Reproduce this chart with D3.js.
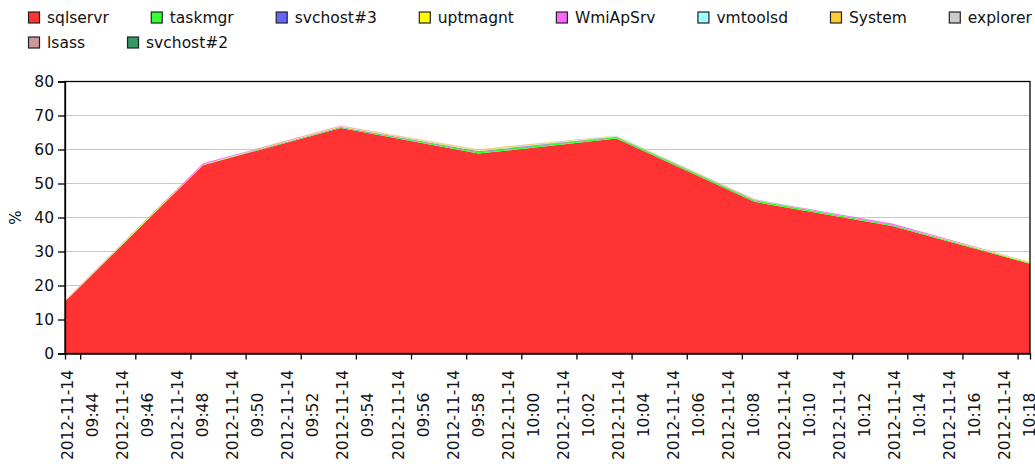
<!DOCTYPE html>
<html>
<head>
<meta charset="utf-8">
<script src="https://cdn.jsdelivr.net/npm/d3@7"></script>
<style>
  html, body { margin: 0; padding: 0; background: #fff; }
  svg { display: block; font-family: "DejaVu Sans", Verdana, sans-serif; }
</style>
</head>
<body>
<svg id="chart" width="1035" height="466"></svg>
<script>
// Sample timestamps (one sample every five minutes)
const times = [
  "2012-11-14 09:43:27", "2012-11-14 09:48:27", "2012-11-14 09:53:27", "2012-11-14 09:58:27",
  "2012-11-14 10:03:27", "2012-11-14 10:08:27", "2012-11-14 10:13:27", "2012-11-14 10:18:27"
];

// Process names, in stacking order (bottom to top)
const processes = ["sqlservr", "taskmgr", "svchost#3", "uptmagnt", "WmiApSrv",
                   "vmtoolsd", "System", "explorer", "lsass", "svchost#2"];

// CPU usage per process, %
const sqlservr  = [15.3, 55.4, 66.3, 58.8, 63.2, 44.6, 37.5, 26.4];
const taskmgr   = [0.05, 0.05, 0.15, 0.5, 0.5, 0.5, 0.3, 0.2];
const svchost3  = [0.02, 0.02, 0.15, 0.2, 0.05, 0.05, 0.05, 0.02];
const uptmagnt  = [0.3, 0.1, 0.25, 0.15, 0.1, 0.05, 0.05, 0.25];
const wmiApSrv  = [0.05, 0.35, 0.1, 0.05, 0.05, 0.15, 0.3, 0.05];
const vmtoolsd  = [0.02, 0.02, 0.02, 0.05, 0.15, 0.05, 0.02, 0.02];
const systemCpu = [0.02, 0.02, 0.05, 0.25, 0.05, 0.02, 0.02, 0.02];
const explorer  = [0, 0, 0.02, 0.05, 0.02, 0, 0, 0];
const lsass     = [0, 0, 0.02, 0.02, 0, 0, 0, 0];
const svchost2  = [0, 0, 0, 0.02, 0, 0, 0, 0];

const seriesValues = [sqlservr, taskmgr, svchost3, uptmagnt, wmiApSrv,
                      vmtoolsd, systemCpu, explorer, lsass, svchost2];

const colors = ["#ff3333", "#33ff33", "#6666ff", "#ffff00", "#ff66ff",
                "#99ffff", "#ffcc33", "#cccccc", "#cc9999", "#339966"];

const yTicks = [0, 10, 20, 30, 40, 50, 60, 70, 80];
const yLabel = "%";

const parseTime = d3.timeParse("%Y-%m-%d %H:%M:%S");
const rows = times.map((t, i) => {
  const r = { time: parseTime(t) };
  processes.forEach((p, k) => { r[p] = seriesValues[k][i]; });
  return r;
});

const svg = d3.select("#chart");
const plot = { left: 65, right: 1030, top: 81.5, bottom: 353.5 };

const x = d3.scaleTime()
  .domain(d3.extent(rows, d => d.time))
  .range([plot.left, plot.right]);
const y = d3.scaleLinear().domain([0, 80]).range([plot.bottom, plot.top]);

// Horizontal grid lines
svg.append("g")
  .selectAll("line")
  .data(yTicks.filter(v => v > 0 && v < 80))
  .join("line")
  .attr("x1", plot.left).attr("x2", plot.right)
  .attr("y1", d => y(d)).attr("y2", d => y(d))
  .attr("stroke", "#c8c8c8").attr("stroke-width", 1);

// Stacked areas
const stack = d3.stack().keys(processes);
const layers = stack(rows);
const area = d3.area()
  .x(d => x(d.data.time))
  .y0(d => y(d[0]))
  .y1(d => y(d[1]));

svg.append("g")
  .selectAll("path")
  .data(layers)
  .join("path")
  .attr("d", area)
  .attr("fill", (d, i) => colors[i]);

// Plot frame
svg.append("rect")
  .attr("x", plot.left).attr("y", plot.top)
  .attr("width", plot.right - plot.left).attr("height", plot.bottom - plot.top)
  .attr("fill", "none").attr("stroke", "#000").attr("stroke-width", 1.3);

// Y axis
const yAxis = svg.append("g")
  .attr("transform", `translate(${plot.left},0)`)
  .call(d3.axisLeft(y).tickValues(yTicks).tickSize(7).tickPadding(4).tickFormat(d3.format("d")));
yAxis.select(".domain").attr("stroke", "#000").attr("stroke-width", 1.3);
yAxis.selectAll(".tick line").attr("stroke", "#000").attr("stroke-width", 1.3);
yAxis.selectAll("text")
  .attr("font-family", "DejaVu Sans, Verdana, sans-serif")
  .attr("font-size", 15.5).attr("fill", "#111");

svg.append("text")
  .attr("transform", `translate(21,${(plot.top + plot.bottom) / 2}) rotate(-90)`)
  .attr("text-anchor", "middle")
  .attr("font-size", 15).attr("fill", "#111")
  .text(yLabel);

// X axis: ticks every two minutes
const xTickValues = d3.timeMinute.every(2).range(
  d3.timeMinute.ceil(x.domain()[0]), x.domain()[1]);
const xAxis = svg.append("g")
  .attr("transform", `translate(0,${plot.bottom})`)
  .call(d3.axisBottom(x).tickValues(xTickValues).tickSize(6).tickFormat(""));
xAxis.select(".domain").attr("stroke", "#000").attr("stroke-width", 1.3);
xAxis.selectAll(".tick line").attr("stroke", "#000").attr("stroke-width", 1.3);

const fmtDate = d3.timeFormat("%Y-%m-%d");
const fmtTime = d3.timeFormat("%H:%M");
const labelCenterY = 415;
const xLabels = svg.append("g").attr("font-size", 15.5).attr("fill", "#111");
xTickValues.forEach(t => {
  const tx = x(t);
  xLabels.append("text")
    .attr("transform", `translate(${tx - 7.5},${labelCenterY}) rotate(-90)`)
    .attr("text-anchor", "middle")
    .text(fmtDate(t));
  xLabels.append("text")
    .attr("transform", `translate(${tx + 17.5},${labelCenterY}) rotate(-90)`)
    .attr("text-anchor", "middle")
    .text(fmtTime(t));
});

// Legend: two rows, items flow left to right
const legendRows = [processes.slice(0, 8), processes.slice(8)];
const legend = svg.append("g").attr("font-size", 15.5).attr("fill", "#111");
let idx = 0;
legendRows.forEach((row, r) => {
  let cx = 28;
  const top = 11.5 + r * 25;
  row.forEach(name => {
    const g = legend.append("g").attr("transform", `translate(${cx},${top})`);
    g.append("rect")
      .attr("x", 0.5).attr("y", 0.5).attr("width", 11).attr("height", 11)
      .attr("fill", colors[idx]).attr("stroke", "#222").attr("stroke-width", 1.2);
    const txt = g.append("text").attr("x", 19).attr("y", 11).text(name);
    const w = txt.node().getComputedTextLength();
    cx += 19 + w + 42;
    idx++;
  });
});
</script>
</body>
</html>
